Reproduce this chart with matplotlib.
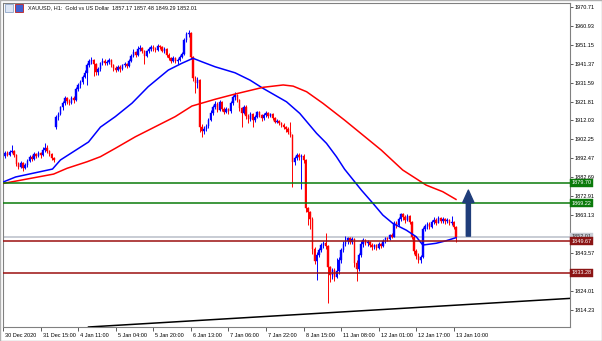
import matplotlib.pyplot as plt
import matplotlib.transforms as mtransforms
from matplotlib.patches import Rectangle

# XAUUSD H1 candles, bar index 0 = 30 Dec 2020 22:00
closes = [
    # 0-9
    1893.5, 1895.0, 1894.2, 1895.8, 1896.5, 1894.0, 1889.5, 1888.2, 1890.0, 1887.5,
    # 10-19
    1888.8, 1891.0, 1893.0, 1892.2, 1894.5, 1893.8, 1895.0, 1894.0, 1896.8, 1898.0,
    # 20-29
    1896.5, 1894.5, 1892.8, 1891.5, 1914.0, 1915.5, 1918.8, 1921.0, 1923.5, 1922.0,
    # 30-39
    1921.2, 1923.8, 1922.5, 1928.5, 1930.2, 1932.0, 1934.5, 1936.8, 1940.5, 1942.8,
    # 40-49
    1943.5, 1941.5, 1937.0, 1938.5, 1941.8, 1943.0, 1941.6, 1942.5, 1943.2, 1940.8,
    # 50-59
    1939.0, 1938.2, 1939.8, 1938.5, 1940.6, 1941.5, 1940.0, 1943.0, 1945.2, 1947.5,
    # 60-69
    1946.0, 1948.8, 1949.5, 1948.0, 1945.5, 1947.8, 1949.0, 1950.2, 1949.0, 1948.5,
    # 70-79
    1950.5, 1949.8, 1948.0, 1949.2, 1946.0, 1944.5, 1943.0, 1944.2, 1942.8, 1943.5,
    # 80-89
    1945.0, 1946.5, 1953.5, 1956.8, 1957.5, 1945.0, 1934.0, 1931.5, 1933.0, 1908.6,
    # 90-99
    1906.5, 1907.8, 1909.0, 1912.5, 1916.0, 1919.0, 1920.8, 1917.5, 1921.5, 1918.0,
    # 100-109
    1916.5, 1917.8, 1916.8, 1921.0, 1924.0, 1925.2, 1922.5, 1918.5, 1916.0, 1919.2,
    # 110-119
    1914.5, 1913.0, 1915.5, 1912.5, 1914.0, 1916.2, 1915.0, 1913.2, 1914.8, 1916.0,
    # 120-129
    1914.5, 1915.2, 1913.5, 1911.5, 1912.0, 1910.5, 1909.8, 1908.5, 1907.5, 1906.0,
    # 130-139
    1904.5, 1890.5, 1892.5, 1894.0, 1893.0, 1893.8, 1891.5, 1866.7, 1864.5, 1861.0,
    # 140-149
    1845.5, 1839.5, 1842.5, 1845.0, 1847.5, 1848.5, 1847.0, 1836.0, 1832.0, 1834.5,
    # 150-159
    1831.0, 1834.0, 1840.0, 1845.0, 1848.0, 1849.5, 1851.0, 1849.2, 1850.5, 1838.5,
    # 160-169
    1835.0, 1842.5, 1848.0, 1850.2, 1848.5, 1849.2, 1847.8, 1846.5, 1847.5, 1846.2,
    # 170-179
    1848.0, 1847.0, 1849.5, 1851.0, 1850.5, 1852.8, 1852.0, 1859.0, 1858.2, 1861.0,
    # 180-189
    1863.5, 1862.0, 1860.5, 1862.8, 1859.5, 1852.0, 1844.5, 1842.0, 1840.0, 1841.5,
    # 190-199
    1856.0, 1857.5, 1858.5, 1857.0, 1859.5, 1860.8, 1859.2, 1861.5, 1860.0, 1861.2,
    # 200-205
    1859.8, 1860.5, 1858.8, 1859.5, 1857.17, 1852.01,
]

highs = [
    1896.0, 1896.2, 1896.0, 1897.0, 1899.3, 1897.0, 1894.5, 1890.5, 1891.2, 1890.8,
    1890.0, 1892.0, 1894.0, 1894.2, 1895.5, 1895.2, 1896.0, 1895.8, 1898.5, 1900.2,
    1899.5, 1897.0, 1895.0, 1893.2, 1914.8, 1916.5, 1919.5, 1922.0, 1924.8, 1924.0,
    1923.0, 1924.5, 1924.6, 1929.5, 1931.5, 1933.0, 1935.5, 1938.0, 1942.0, 1944.0,
    1944.8, 1944.0, 1942.0, 1939.5, 1942.5, 1944.5, 1943.8, 1943.5, 1944.2, 1943.6,
    1941.5, 1940.0, 1940.8, 1940.5, 1941.5, 1942.5, 1942.0, 1944.0, 1946.5, 1948.8,
    1948.2, 1950.5, 1951.0, 1950.2, 1948.5, 1948.5, 1950.0, 1951.2, 1951.0, 1949.8,
    1951.5, 1951.2, 1950.5, 1950.0, 1949.5, 1946.8, 1945.0, 1945.2, 1944.8, 1944.5,
    1946.0, 1947.5, 1954.5, 1958.0, 1958.8, 1957.8, 1945.5, 1935.0, 1934.5, 1933.5,
    1910.0, 1909.0, 1910.2, 1913.5, 1917.2, 1920.0, 1922.2, 1921.5, 1922.5, 1922.0,
    1918.8, 1918.8, 1918.5, 1922.0, 1925.2, 1926.7, 1925.8, 1923.0, 1919.2, 1920.2,
    1919.8, 1915.5, 1916.5, 1916.0, 1915.0, 1917.0, 1916.8, 1915.5, 1915.8, 1917.0,
    1916.5, 1916.0, 1915.8, 1914.0, 1913.0, 1912.5, 1911.0, 1910.5, 1909.0, 1908.5,
    1911.5, 1905.0, 1893.5, 1895.2, 1895.0, 1894.8, 1894.5, 1892.0, 1867.5, 1865.2,
    1862.0, 1846.5, 1844.0, 1846.2, 1848.8, 1849.5, 1854.0, 1847.5, 1837.0, 1835.5,
    1835.8, 1841.0, 1841.2, 1846.0, 1849.5, 1852.5, 1852.0, 1851.8, 1851.5, 1851.0,
    1840.0, 1843.5, 1849.5, 1851.2, 1850.8, 1850.0, 1849.8, 1848.5, 1848.2, 1848.0,
    1849.0, 1848.6, 1850.5, 1852.0, 1852.0, 1853.5, 1853.8, 1860.0, 1860.2, 1862.2,
    1864.2, 1864.0, 1863.0, 1863.5, 1863.0, 1860.0, 1852.8, 1845.5, 1843.5, 1842.5,
    1857.0, 1858.5, 1859.5, 1859.5, 1860.5, 1862.0, 1861.5, 1862.5, 1862.0, 1862.0,
    1861.8, 1861.5, 1861.0, 1862.5, 1860.0, 1857.48,
]

lows = [
    1892.5, 1892.8, 1893.5, 1893.8, 1895.0, 1893.2, 1888.5, 1887.0, 1887.5, 1886.0,
    1886.8, 1888.0, 1890.5, 1891.0, 1891.8, 1892.5, 1893.0, 1892.8, 1893.5, 1895.5,
    1895.0, 1893.8, 1891.5, 1890.8, 1907.5, 1912.5, 1914.8, 1917.5, 1920.2, 1920.5,
    1919.8, 1920.8, 1921.0, 1922.0, 1927.5, 1929.0, 1931.0, 1933.8, 1930.5, 1939.5,
    1941.0, 1935.0, 1935.5, 1935.8, 1937.5, 1940.8, 1940.5, 1940.8, 1941.5, 1939.8,
    1937.8, 1937.0, 1937.5, 1937.2, 1938.0, 1939.8, 1939.0, 1939.5, 1942.5, 1944.8,
    1945.0, 1945.5, 1947.8, 1947.0, 1941.5, 1944.8, 1947.0, 1948.2, 1948.0, 1947.5,
    1948.0, 1948.8, 1947.2, 1947.0, 1945.0, 1943.5, 1942.0, 1942.2, 1941.8, 1941.5,
    1942.8, 1944.2, 1946.0, 1952.8, 1955.0, 1944.0, 1932.5, 1926.0, 1929.0, 1906.0,
    1903.5, 1905.0, 1906.5, 1908.0, 1911.8, 1915.0, 1918.0, 1916.5, 1916.8, 1917.0,
    1915.5, 1915.8, 1915.5, 1916.0, 1920.0, 1922.8, 1921.5, 1917.0, 1908.6, 1915.2,
    1913.0, 1910.5, 1912.0, 1908.5, 1911.5, 1913.5, 1914.0, 1912.0, 1912.5, 1914.0,
    1913.5, 1913.8, 1912.5, 1910.5, 1910.8, 1909.5, 1908.5, 1907.5, 1906.2, 1905.0,
    1903.5, 1877.6, 1889.0, 1891.5, 1891.8, 1876.5, 1890.0, 1864.5, 1858.0, 1856.0,
    1843.0, 1838.0, 1829.5, 1841.5, 1844.0, 1846.0, 1845.5, 1817.6, 1828.5, 1830.0,
    1829.0, 1830.5, 1832.5, 1838.5, 1844.0, 1847.0, 1848.0, 1848.0, 1848.2, 1836.0,
    1829.0, 1834.0, 1841.5, 1846.8, 1847.5, 1847.0, 1846.5, 1845.0, 1845.8, 1845.0,
    1845.5, 1846.0, 1846.5, 1848.8, 1849.5, 1850.0, 1851.0, 1851.5, 1856.5, 1857.5,
    1860.0, 1860.8, 1859.0, 1860.0, 1858.5, 1850.5, 1843.0, 1840.5, 1838.5, 1838.5,
    1841.0, 1855.0, 1856.0, 1856.0, 1856.5, 1858.5, 1858.0, 1858.8, 1859.0, 1859.2,
    1858.5, 1858.8, 1857.8, 1858.0, 1856.0, 1849.29,
]

first_open = 1894.8
gap_bar = 24          # new year gap (4 Jan open)
gap_open = 1908.8

# moving averages (bar index, price)
blue_ma_x = [0.3, 5.7, 22.4, 26, 38.7, 44.1, 50.8, 58.4, 65.7, 74.8, 80.9, 86, 90, 96, 105,
             111.8, 117.6, 128.3, 134.3, 141.9, 146.4, 150.9, 154.6, 162.2, 167.4, 171.9,
             176.4, 182.5, 187, 190, 196, 200.5, 205]
blue_ma_y = [1880.3, 1882.8, 1886.9, 1891.6, 1900.9, 1908.6, 1914.0, 1921.0, 1929.5, 1938.1,
             1941.6, 1944.2, 1942.4, 1939.8, 1936.7, 1932.9, 1928.7, 1921.7, 1915.7, 1905.4,
             1900.2, 1893.3, 1886.8, 1876.0, 1869.2, 1863.1, 1858.8, 1855.3, 1851.9, 1847.6,
             1848.5, 1849.8, 1851.4]
red_ma_x = [0.3, 22.9, 29, 38.1, 44.1, 50.8, 59.9, 68.9, 77.9, 85.5, 96, 105, 117.8, 126.8,
            131.3, 137.4, 144.8, 154.6, 171.2, 180.9, 191.5, 199, 205]
red_ma_y = [1879.5, 1884.3, 1887.3, 1890.7, 1893.3, 1897.6, 1903.6, 1908.8, 1914.0, 1919.5,
            1923.0, 1925.7, 1929.2, 1930.4, 1929.8, 1926.9, 1920.9, 1912.2, 1896.7, 1886.4,
            1878.6, 1875.2, 1871.2]

trend_x = [38.7, 256.6]
trend_y = [1805.2, 1820.0]

green_levels = [1879.70, 1869.22]
red_levels = [1849.67, 1833.28]
last_price = 1852.01

arrow_x = 210.6
arrow_from = 1852.2
arrow_to = 1876.0

yticks = [1970.71, 1960.93, 1951.15, 1941.37, 1931.59, 1921.81, 1912.03, 1902.25, 1892.47,
          1882.69, 1872.91, 1863.13, 1853.35, 1843.57, 1833.79, 1824.01, 1814.23]
# these two scale labels sit under the price tags
covered_ticks = [1853.35, 1833.79]
xtick_pos = [0, 17, 34, 51, 68, 85, 102, 119, 136, 153, 170, 187, 204]
xtick_labels = ['30 Dec 2020', '31 Dec 15:00', '4 Jan 11:00', '5 Jan 04:00', '5 Jan 20:00',
                '6 Jan 13:00', '7 Jan 06:00', '7 Jan 22:00', '8 Jan 15:00', '11 Jan 08:00',
                '12 Jan 01:00', '12 Jan 17:00', '13 Jan 10:00']

title = 'XAUUSD, H1:  Gold vs US Dollar  1857.17 1857.48 1849.29 1852.01'

plt.rcParams['font.family'] = ['Liberation Sans', 'DejaVu Sans']

fig = plt.figure(figsize=(6.02, 3.41), dpi=100)
ax = fig.add_axes([3 / 602, 14 / 341, 567 / 602, 324 / 341])

opens = [first_open] + closes[:-1]
opens[gap_bar] = gap_open
idx = list(range(len(closes)))
cols = ['#0000ff' if c >= o else '#ff0000' for o, c in zip(opens, closes)]
ax.vlines(idx, lows, highs, colors=cols, lw=0.7, zorder=2)
ax.bar(idx, [abs(c - o) for o, c in zip(opens, closes)],
       bottom=[min(o, c) for o, c in zip(opens, closes)],
       width=0.65, color=cols, edgecolor=cols, lw=0.3, zorder=2.2)

ax.plot(blue_ma_x, blue_ma_y, color='#0000ff', lw=1.1, zorder=3)
ax.plot(red_ma_x, red_ma_y, color='#ff0000', lw=1.1, zorder=3)

ax.axhline(last_price, color='#c8ccd4', lw=1.4, zorder=1)
for lv in green_levels:
    ax.axhline(lv, color='#0a7a0a', lw=1.1, zorder=3.5)
for lv in red_levels:
    ax.axhline(lv, color='#9b1010', lw=1.1, zorder=3.5)

ax.plot(trend_x, trend_y, color='black', lw=1.1, zorder=3)

ax.annotate('', xy=(arrow_x, arrow_to), xytext=(arrow_x, arrow_from),
            arrowprops=dict(arrowstyle='simple,head_length=1.0,head_width=0.9,tail_width=0.33',
                            mutation_scale=9, color='#1f3d7a', shrinkA=0, shrinkB=0), zorder=4)

ax.set_xlim(0, 256.6)
ax.set_ylim(1805.2, 1972.8)

ax.yaxis.tick_right()
ax.set_yticks(yticks)
ax.set_yticklabels(['' if v in covered_ticks else f'{v:.2f}' for v in yticks])
ax.tick_params(axis='y', length=2.5, width=0.6, color='#404040', labelsize=4, pad=1)
ax.set_xticks(xtick_pos)
ax.set_xticklabels(xtick_labels, ha='left')
ax.tick_params(axis='x', length=3, width=0.6, color='#404040', labelsize=4, pad=1)
offset = mtransforms.ScaledTranslation(1.5 / 72, 0, fig.dpi_scale_trans)
for lab in ax.get_xticklabels():
    lab.set_transform(lab.get_transform() + offset)

for sp in ax.spines.values():
    sp.set_color('#808080')
    sp.set_linewidth(0.8)

# price tags on the right scale
trans = mtransforms.blended_transform_factory(ax.transAxes, ax.transData)
tags = [(last_price, '#c8ccd4', '#303030')]
tags += [(lv, '#0a7a0a', 'white') for lv in green_levels]
tags += [(lv, '#8b1414', 'white') for lv in red_levels]
for val, bg, fg in tags:
    ax.text(1.003, val, f'{val:.2f}', transform=trans, ha='left', va='center', fontsize=4,
            color=fg, clip_on=False, zorder=6,
            bbox=dict(boxstyle='square,pad=0.25', fc=bg, ec=bg, lw=0.3))

# header with the little window icons
fig.patches.append(Rectangle((5 / 602, 1 - 12 / 341), 8 / 602, 8 / 341, transform=fig.transFigure,
                             fc='#dde6f5', ec='#6080b0', lw=0.4))
fig.patches.append(Rectangle((15 / 602, 1 - 12 / 341), 8 / 602, 8 / 341, transform=fig.transFigure,
                             fc='#4060d0', ec='#c02020', lw=0.6))
fig.text(28 / 602, 1 - 8 / 341, title, fontsize=4, color='#101010', va='center', ha='left')

fig.patches.append(Rectangle((0, 0), 1, 1, transform=fig.transFigure, fill=False,
                             ec='#b0b0b0', lw=1))

fig.savefig('out.png', dpi=100)
